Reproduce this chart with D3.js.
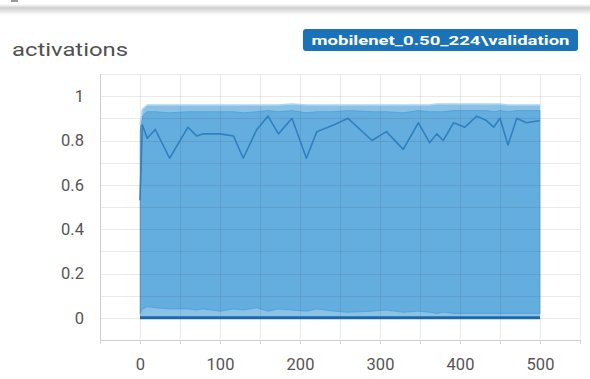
<!DOCTYPE html>
<html>
<head>
<meta charset="utf-8">
<script src="https://cdn.jsdelivr.net/npm/d3@7"></script>
<style>
  html, body { margin: 0; padding: 0; background: #fff; }
  svg { display: block; font-family: Roboto, "Liberation Sans", sans-serif; }
</style>
</head>
<body>
<svg id="chart" width="590" height="379"></svg>
<script>
// Training steps at which the distribution was recorded
const steps = [0, 3, 9, 19, 37, 60, 71, 79, 100, 117, 129, 146, 160, 173, 190, 208, 221, 242, 260, 290,
               308, 329, 348, 362, 371, 379, 392, 406, 421, 433, 442, 450, 460, 471, 483, 500];
// Percentile bands of the activation distribution
const maxVals    = [0.87, 0.94, 0.96, 0.96, 0.96, 0.96, 0.96, 0.96, 0.96, 0.96, 0.96, 0.96, 0.96, 0.96, 0.965, 0.96, 0.96, 0.96, 0.96, 0.96,
                    0.96, 0.96, 0.96, 0.96, 0.965, 0.965, 0.965, 0.965, 0.965, 0.965, 0.965, 0.965, 0.96, 0.96, 0.96, 0.96];
const upperVals  = [0.84, 0.91, 0.93, 0.93, 0.925, 0.93, 0.93, 0.93, 0.93, 0.93, 0.925, 0.93, 0.935, 0.93, 0.935, 0.925, 0.93, 0.93, 0.935, 0.93,
                    0.93, 0.925, 0.935, 0.93, 0.93, 0.93, 0.935, 0.935, 0.935, 0.935, 0.93, 0.935, 0.93, 0.935, 0.935, 0.935];
const medianVals = [0.53, 0.87, 0.81, 0.85, 0.72, 0.86, 0.82, 0.83, 0.83, 0.82, 0.72, 0.85, 0.91, 0.83, 0.90, 0.72, 0.84, 0.87, 0.90, 0.80,
                    0.84, 0.76, 0.88, 0.79, 0.83, 0.80, 0.88, 0.86, 0.91, 0.89, 0.86, 0.90, 0.78, 0.90, 0.88, 0.89];
const lowerVals  = [0.02, 0.04, 0.05, 0.045, 0.04, 0.04, 0.035, 0.04, 0.03, 0.04, 0.035, 0.045, 0.03, 0.04, 0.035, 0.03, 0.04, 0.03, 0.025, 0.03,
                    0.035, 0.025, 0.03, 0.025, 0.02, 0.025, 0.02, 0.02, 0.02, 0.02, 0.02, 0.02, 0.02, 0.02, 0.02, 0.02];
const minVals    = [0, 0, 0, 0, 0, 0, 0, 0, 0, 0, 0, 0, 0, 0, 0, 0, 0, 0, 0, 0,
                    0, 0, 0, 0, 0, 0, 0, 0, 0, 0, 0, 0, 0, 0, 0, 0];

const xTicks = [0, 100, 200, 300, 400, 500];
const yTicks = [0, 0.2, 0.4, 0.6, 0.8, 1];
const xGrid = [-50, 0, 50, 100, 150, 200, 250, 300, 350, 400, 450, 500, 550];
const yGrid = [-0.1, 0, 0.1, 0.2, 0.3, 0.4, 0.5, 0.6, 0.7, 0.8, 0.9, 1, 1.1];

const title = "activations";
const runName = "mobilenet_0.50_224\\validation";

const svg = d3.select("#chart");
const W = 590, H = 379;
const plot = { left: 100, right: 580, top: 74, bottom: 340 };

const x = d3.scaleLinear().domain([-50, 550]).range([plot.left, plot.right]);
const y = d3.scaleLinear().domain([-0.1, 1.1]).range([plot.bottom, plot.top]);

// card top shadow
const defs = svg.append("defs");
const grad = defs.append("linearGradient").attr("id", "shadow").attr("x1", 0).attr("x2", 0).attr("y1", 0).attr("y2", 1);
grad.append("stop").attr("offset", 0).attr("stop-color", "#ffffff");
grad.append("stop").attr("offset", 0.35).attr("stop-color", "#cfcfcf");
grad.append("stop").attr("offset", 1).attr("stop-color", "#ffffff");
svg.append("rect").attr("x", 0).attr("y", 4).attr("width", W).attr("height", 11).attr("fill", "url(#shadow)");
svg.append("rect").attr("x", 11).attr("y", 0).attr("width", 7).attr("height", 2).attr("fill", "#9a9a9a");

// title
svg.append("text").attr("x", 12).attr("y", 56)
  .attr("font-size", 18).attr("fill", "#505050")
  .attr("textLength", 116).attr("lengthAdjust", "spacingAndGlyphs")
  .text(title);

// run badge
svg.append("rect").attr("x", 303).attr("y", 29).attr("width", 275).attr("height", 22).attr("rx", 3)
  .attr("fill", "#1a72b8");
svg.append("text").attr("x", 440.5).attr("y", 44.5).attr("text-anchor", "middle")
  .attr("font-size", 13).attr("font-weight", "bold").attr("fill", "#ffffff")
  .attr("textLength", 258).attr("lengthAdjust", "spacingAndGlyphs")
  .text(runName);

// distribution bands
const rows = steps.map((s, i) => ({
  step: s, max: maxVals[i], upper: upperVals[i], median: medianVals[i], lower: lowerVals[i], min: minVals[i]
}));

const band = (lo, hi) => d3.area().x(d => x(d.step)).y0(d => y(d[lo])).y1(d => y(d[hi]));

svg.append("path").datum(rows).attr("d", band("min", "max"))
  .attr("fill", "rgb(82,163,220)").attr("fill-opacity", 0.68);
svg.append("path").datum(rows).attr("d", band("lower", "upper"))
  .attr("fill", "rgb(82,163,220)").attr("fill-opacity", 0.68)
  .attr("stroke", "rgb(55,140,200)").attr("stroke-opacity", 0.45).attr("stroke-width", 1);

// grid
const grid = svg.append("g").attr("stroke", "rgb(70,40,40)").attr("stroke-opacity", 0.1).attr("stroke-width", 1);
grid.selectAll(".h").data(yGrid).join("line")
  .attr("x1", plot.left).attr("x2", plot.right)
  .attr("y1", d => Math.round(y(d)) + 0.5).attr("y2", d => Math.round(y(d)) + 0.5);
grid.selectAll(".v").data(xGrid).join("line")
  .attr("y1", plot.top).attr("y2", plot.bottom)
  .attr("x1", d => Math.round(x(d)) + 0.5).attr("x2", d => Math.round(x(d)) + 0.5);

// max rim, min edge and median line
svg.append("path").datum(rows)
  .attr("d", d3.line().x(d => x(d.step)).y(d => y(d.max)))
  .attr("fill", "none").attr("stroke", "rgb(170,215,243)").attr("stroke-width", 1.5);
svg.append("path").datum(rows)
  .attr("d", d3.line().x(d => x(d.step)).y(d => y(d.min)))
  .attr("fill", "none").attr("stroke", "rgb(28,104,168)").attr("stroke-width", 3);
svg.append("path").datum(rows)
  .attr("d", d3.line().x(d => x(d.step)).y(d => y(d.median)))
  .attr("fill", "none").attr("stroke", "rgb(48,128,192)").attr("stroke-width", 1.6)
  .attr("stroke-linejoin", "round");

// axes
const xAxis = d3.axisBottom(x).tickValues(xGrid).tickSize(4).tickPadding(14)
  .tickFormat(d => xTicks.includes(d) ? d : "");
const gx = svg.append("g").attr("transform", `translate(0,${plot.bottom})`).call(xAxis);
const yAxis = d3.axisLeft(y).tickValues(yTicks).tickSize(0).tickPadding(16).tickFormat(d3.format("~g"));
const gy = svg.append("g").attr("transform", `translate(${plot.left},0)`).call(yAxis);

[gx, gy].forEach(g => {
  g.select(".domain").attr("stroke", "#cfcfcf");
  g.selectAll(".tick line").attr("stroke", "#d6d6d6");
  g.selectAll(".tick text").attr("fill", "#555").attr("font-size", 16.5)
    .attr("font-family", "Roboto, 'Liberation Sans', sans-serif");
});
</script>
</body>
</html>
